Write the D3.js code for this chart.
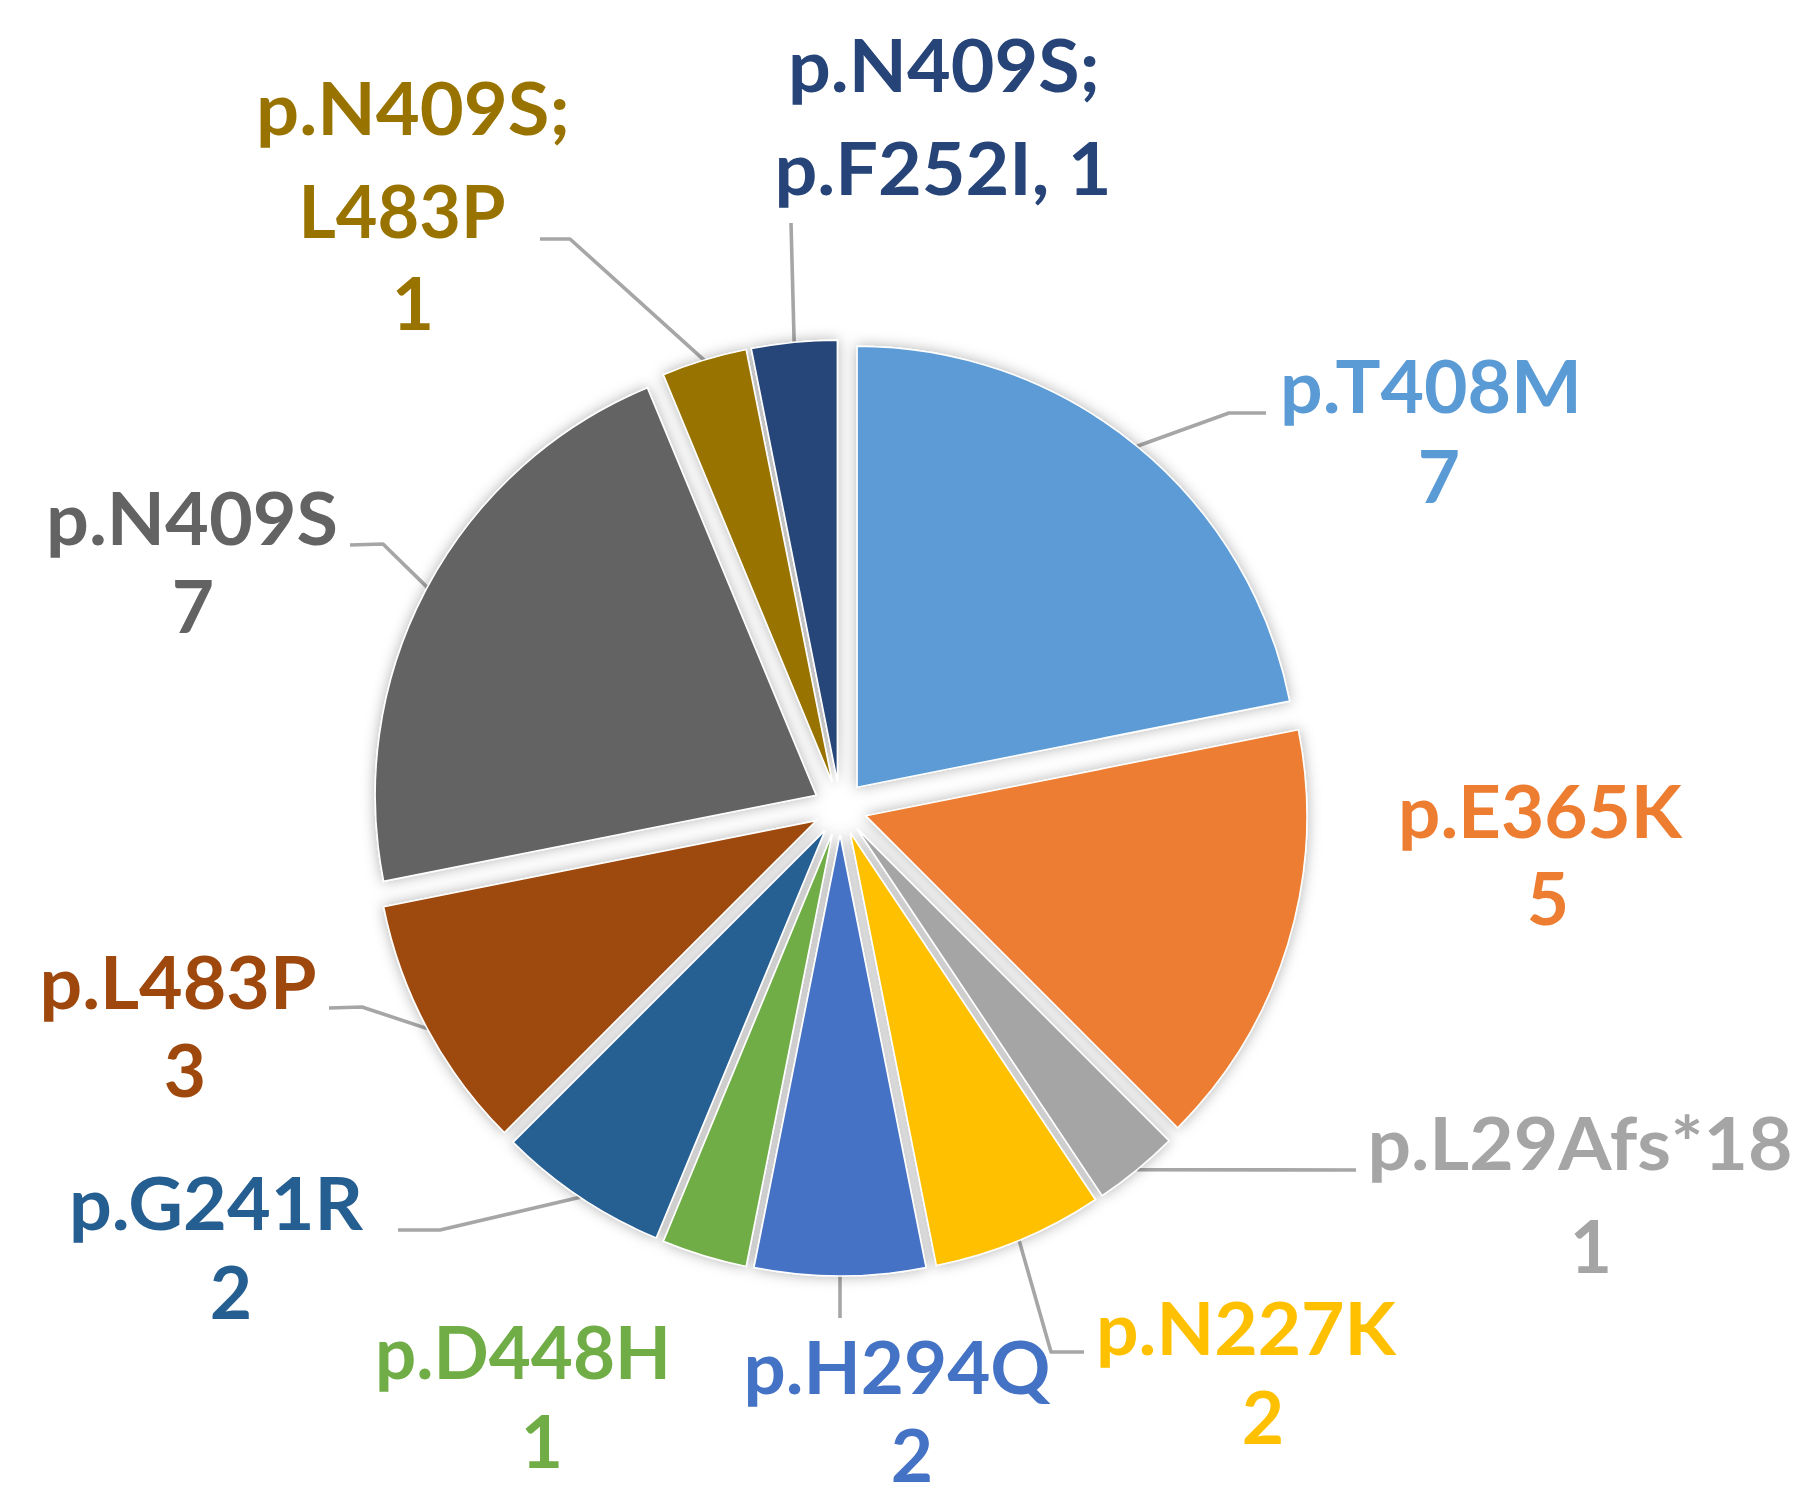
<!DOCTYPE html>
<html>
<head>
<meta charset="utf-8">
<script src="https://cdn.jsdelivr.net/npm/d3@7"></script>
<style>
  html, body { margin: 0; padding: 0; background: #fff; }
  svg { display: block; }
  text { font-family: Lato, "Open Sans", sans-serif; font-weight: 700; }
</style>
</head>
<body>
<svg id="chart" width="1799" height="1498"></svg>
<script>
// ---- data ----
const categories = ["p.T408M", "p.E365K", "p.L29Afs*18", "p.N227K", "p.H294Q", "p.D448H",
                    "p.G241R", "p.L483P", "p.N409S", "p.N409S; L483P", "p.N409S; p.F252I"];
const counts = [7, 5, 1, 2, 2, 1, 2, 3, 7, 1, 1];
const colors = ["#5B9BD5", "#ED7D31", "#A5A5A5", "#FFC000", "#4472C4", "#70AD47",
                "#255E91", "#9E480E", "#636363", "#997300", "#264478"];
// text lines of each data label (name and value as shown)
const labelLines = [
  ["p.T408M", "7"], ["p.E365K", "5"], ["p.L29Afs*18", "1"], ["p.N227K", "2"],
  ["p.H294Q", "2"], ["p.D448H", "1"], ["p.G241R", "2"], ["p.L483P", "3"],
  ["p.N409S", "7"], ["p.N409S;", "L483P", "1"], ["p.N409S;", "p.F252I, 1"]
];

// ---- layout (label placement, not data) ----
const cx = 840, cy = 808, R = 441, explode = 27, fontSize = 73;
const labelLayout = [
  { lines: [[1431, 413, 302], [1439, 503]], leader: [[1266, 413], [1229, 413]] },
  { lines: [[1540, 838, 284], [1548, 925]], leader: null },
  { lines: [[1580, 1170, 425], [1591, 1273]], leader: [[1356, 1170]] },
  { lines: [[1246, 1355, 300], [1263, 1444]], leader: [[1084, 1352], [1051, 1352]] },
  { lines: [[897, 1394, 307], [912, 1482]], leader: [[840, 1318]] },
  { lines: [[523, 1379, 296], [542, 1468]], leader: null },
  { lines: [[216, 1230, 294], [231, 1319]], leader: [[398, 1230], [440, 1230]] },
  { lines: [[178, 1009, 277], [185, 1097]], leader: [[329, 1008], [362, 1007]] },
  { lines: [[192, 545, 292], [193, 633]], leader: [[350, 545], [383, 544]] },
  { lines: [[413, 135, 314], [402, 238, 207], [413, 330]], leader: [[540, 239], [570, 239]] },
  { lines: [[944, 92, 312], [943, 195, 337]], leader: [[791, 223]] }
];

const svg = d3.select("#chart");
const defs = svg.append("defs");
const f = defs.append("filter").attr("id", "shadow")
  .attr("x", "-20%").attr("y", "-20%").attr("width", "140%").attr("height", "140%");
f.append("feDropShadow").attr("dx", 0).attr("dy", 0).attr("stdDeviation", 7)
  .attr("flood-color", "#000").attr("flood-opacity", 0.3);

const pie = d3.pie().sort(null).value(d => d).startAngle(0).endAngle(2 * Math.PI);
const arcs = pie(counts);
const arc = d3.arc().innerRadius(0).outerRadius(R);

const mid = d => (d.startAngle + d.endAngle) / 2;

// leader lines (under slices)
const leaderG = svg.append("g");
arcs.forEach((d, i) => {
  const lay = labelLayout[i];
  if (!lay.leader) return;
  const a = mid(d);
  const end = [cx + (explode + R) * Math.sin(a), cy - (explode + R) * Math.cos(a)];
  const pts = lay.leader.concat([end]);
  leaderG.append("path")
    .attr("d", d3.line()(pts))
    .attr("fill", "none")
    .attr("stroke", "#A6A6A6")
    .attr("stroke-width", 3.6)
    .attr("stroke-linejoin", "round");
});

// slices
const pieG = svg.append("g").attr("filter", "url(#shadow)");
pieG.selectAll("path.slice")
  .data(arcs)
  .join("path")
  .attr("class", "slice")
  .attr("d", arc)
  .attr("fill", (d, i) => colors[i])
  .attr("stroke", "#fff")
  .attr("stroke-width", 1.5)
  .attr("transform", d => {
    const a = mid(d);
    return `translate(${cx + explode * Math.sin(a)},${cy - explode * Math.cos(a)})`;
  });

// labels
const labelG = svg.append("g");
labelLines.forEach((lines, i) => {
  const lay = labelLayout[i];
  lines.forEach((t, j) => {
    const p = lay.lines[j];
    const tx = labelG.append("text")
      .attr("x", p[0]).attr("y", p[1])
      .attr("text-anchor", "middle")
      .attr("font-size", fontSize)
      .attr("fill", colors[i])
      .text(t);
    if (p[2]) tx.attr("textLength", p[2]).attr("lengthAdjust", "spacingAndGlyphs");
  });
});
</script>
</body>
</html>
